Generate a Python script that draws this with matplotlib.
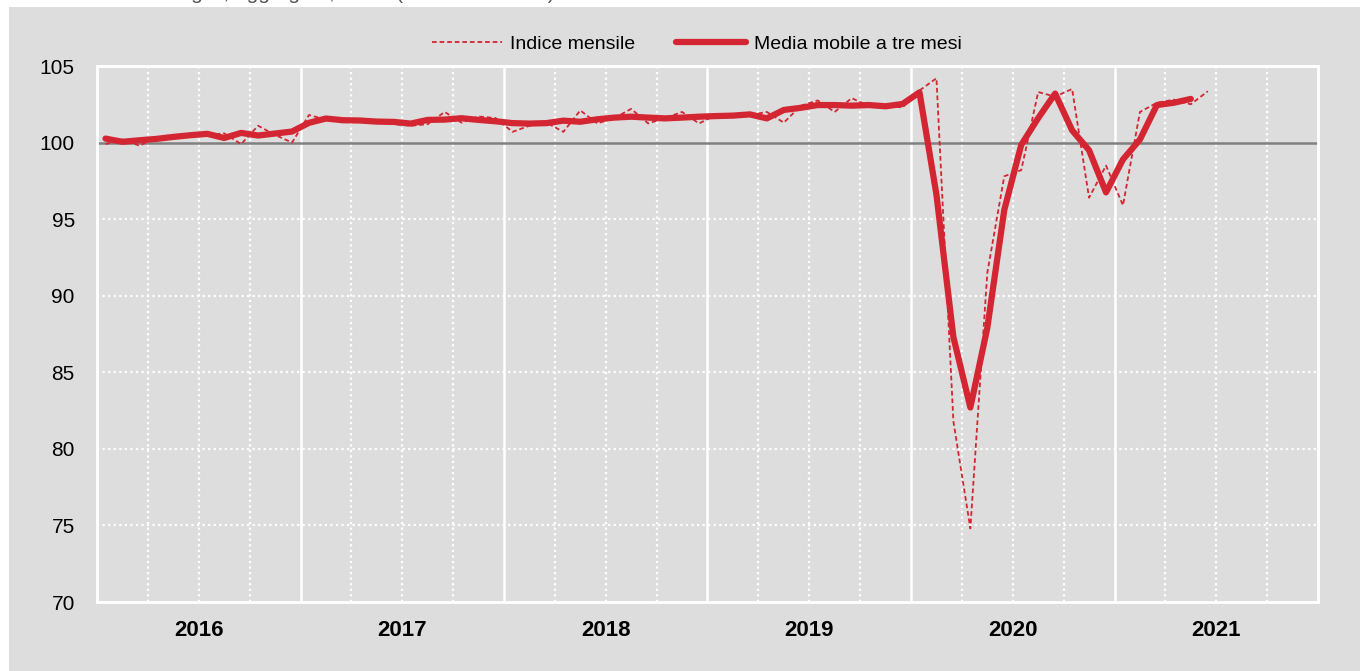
import matplotlib
matplotlib.use('Agg')
from matplotlib import pyplot as plt
from matplotlib.patches import Rectangle

# dati (gen 2016 - giu 2021)
anni = ['2016', '2017', '2018', '2019', '2020', '2021']

indice_mensile = [
    99.9, 100.2, 99.8, 100.3, 100.3, 100.5, 100.5, 100.6, 99.9, 101.1, 100.5, 100.0,
    101.8, 101.5, 101.4, 101.4, 101.3, 101.2, 101.1, 101.2, 102.0, 101.3, 101.7, 101.6,
    100.7, 101.1, 101.3, 100.7, 102.1, 101.25, 101.6, 102.2, 101.25, 101.6, 102.0, 101.25,
    101.8, 101.8, 101.8, 102.0, 101.3, 102.4, 102.75, 102.0, 102.9, 102.4, 102.4, 102.3,
    103.4, 104.2, 81.8, 74.8, 91.5, 97.8, 98.2, 103.3, 103.0, 103.5, 96.4, 98.5,
    95.9, 102.0, 102.6, 102.8, 102.5, 103.35,
]

media_mobile = [
    100.26, 100.05, 100.15, 100.24, 100.37, 100.48, 100.57, 100.3, 100.63, 100.46, 100.59, 100.72,
    101.29, 101.57, 101.46, 101.44, 101.37, 101.35, 101.24, 101.48, 101.5, 101.59, 101.48, 101.39,
    101.27, 101.24, 101.27, 101.43, 101.36, 101.52, 101.63, 101.69, 101.63, 101.58, 101.63, 101.69,
    101.73, 101.76, 101.84, 101.58, 102.13, 102.27, 102.45, 102.45, 102.41, 102.45, 102.37, 102.52,
    103.28, 96.6, 87.3, 82.7, 87.9, 95.6, 99.85, 101.6, 103.2, 100.8, 99.5, 96.75,
    98.9, 100.2, 102.45, 102.6, 102.85,
]

rosso = '#d42532'
grigio = '#dddddd'
font = ['Liberation Sans', 'DejaVu Sans']

fig = plt.figure(figsize=(13.6, 6.71), dpi=100, facecolor='white')
fig.patches.append(Rectangle((9 / 1360, 0), 1, 1 - 7 / 671, transform=fig.transFigure,
                             facecolor=grigio, edgecolor='none', zorder=-5))
# titolo tagliato in alto come nell'originale
fig.text(10 / 1360, 1 + 1 / 671,
         'Commercio al dettaglio, aggregato, valori (base 2015=100)',
         ha='left', va='baseline', fontsize=15, color='#555555', family=font)

ax = fig.add_axes([97 / 1360, 1 - 602 / 671, 1221 / 1360, 536 / 671])
ax.set_facecolor(grigio)
ax.set_zorder(1)

n_mesi = 12 * len(anni)
ax.set_xlim(-0.5, n_mesi - 0.5)
ax.set_ylim(70, 105)

# griglia: trimestri punteggiati, anni continui
for k in range(1, n_mesi // 3):
    xv = -0.5 + 3 * k
    if k % 4 == 0:
        ax.axvline(xv, color='white', lw=1.8, zorder=1)
    else:
        ax.axvline(xv, color='white', lw=1.6, ls=(0, (1, 1.5)), zorder=1)
for yv in [75, 80, 85, 90, 95]:
    ax.axhline(yv, color='white', lw=1.6, ls=(0, (1, 1.5)), zorder=1)
ax.axhline(100, color='#808080', lw=1.8, zorder=2)

mesi = list(range(len(indice_mensile)))
mesi_mm = list(range(len(media_mobile)))
ax.plot(mesi, indice_mensile, color=rosso, lw=1.3, ls=(0, (2.6, 1.6)), zorder=3,
        label='Indice mensile')
ax.plot(mesi_mm, media_mobile, color=rosso, lw=4.5, solid_capstyle='round',
        solid_joinstyle='round', zorder=4, label='Media mobile a tre mesi')

for s in ax.spines.values():
    s.set_color('white')
    s.set_linewidth(2)

ax.set_yticks([70, 75, 80, 85, 90, 95, 100, 105])
ax.set_xticks([5.5 + 12 * k for k in range(len(anni))])
ax.set_xticklabels(anni, fontweight='bold', fontsize=16, family=font)
for lab in ax.get_yticklabels():
    lab.set_family(font)
ax.tick_params(axis='y', length=0, pad=16, labelsize=15)
ax.tick_params(axis='x', length=0, pad=13)

leg = fig.legend(loc='center', bbox_to_anchor=(697 / 1360, 1 - 44 / 671), ncol=2,
                 frameon=False, handlelength=3.6, handletextpad=0.4,
                 columnspacing=2.1, prop={'family': font, 'size': 14})

fig.savefig('out.png', dpi=100, facecolor=fig.get_facecolor())
